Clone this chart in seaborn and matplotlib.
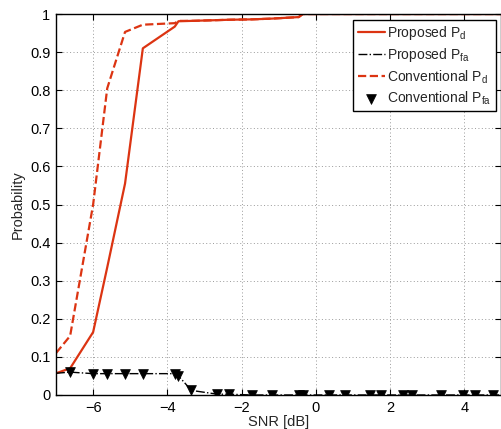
import numpy as np
import pandas as pd
import matplotlib
matplotlib.use("Agg")
import matplotlib.pyplot as plt
import seaborn as sns

# SNR points (dB)
snr = [-7.0, -6.62, -6.0, -5.62, -5.14, -4.66, -3.8, -3.7, -3.35, -2.65, -2.33,
       -1.72, -1.18, -0.46, -0.35, 0.35, 0.78, 1.45, 1.76, 2.34, 2.59, 3.37,
       3.97, 4.29, 4.77, 5.3]

proposed_pd = [0.057, 0.07, 0.165, 0.335, 0.555, 0.91, 0.967, 0.981, 0.982, 0.984, 0.985,
               0.986, 0.988, 0.992, 1.0, 1.0, 1.0, 1.0, 1.0, 1.0, 1.0, 1.0,
               1.0, 1.0, 1.0, 1.0]
proposed_pfa = [0.057, 0.06, 0.056, 0.056, 0.056, 0.056, 0.056, 0.05, 0.012, 0.002, 0.002,
                0.0, 0.0, 0.0, 0.0, 0.0, 0.0, 0.0, 0.0, 0.0, 0.0, 0.0,
                0.0, 0.0, 0.0, 0.0]
conventional_pd = [0.11, 0.155, 0.5, 0.805, 0.953, 0.972, 0.976, 0.982, 0.982, 0.984, 0.985,
                   0.986, 0.988, 0.992, 1.0, 1.0, 1.0, 1.0, 1.0, 1.0, 1.0, 1.0,
                   1.0, 1.0, 1.0, 1.0]
# conventional Pfa coincides with proposed Pfa (markers only, first point off-plot)
conventional_pfa = proposed_pfa

x_ticks = [-6, -4, -2, 0, 2, 4]
y_ticks = [0, 0.1, 0.2, 0.3, 0.4, 0.5, 0.6, 0.7, 0.8, 0.9, 1]
y_tick_labels = ["0", "0.1", "0.2", "0.3", "0.4", "0.5", "0.6", "0.7", "0.8", "0.9", "1"]

df = pd.DataFrame({"snr": snr, "ppd": proposed_pd, "ppfa": proposed_pfa,
                   "cpd": conventional_pd, "cpfa": conventional_pfa})

sns.set_theme(style="ticks")
plt.rcParams["font.family"] = ["Liberation Sans", "DejaVu Sans"]
plt.rcParams["mathtext.default"] = "regular"

RED = "#dc3412"

fig = plt.figure(figsize=(5.02, 4.29), dpi=100)
ax = fig.add_axes([0.1116, 0.0793, 0.887, 0.888])

sns.lineplot(data=df, x="snr", y="ppd", ax=ax, color=RED, lw=1.6, sort=False,
             label=r"Proposed P$_{d}$")
sns.lineplot(data=df, x="snr", y="ppfa", ax=ax, color="black", lw=1.0, ls="-.",
             sort=False, label=r"Proposed P$_{fa}$")
sns.lineplot(data=df, x="snr", y="cpd", ax=ax, color=RED, lw=1.6, ls="--",
             sort=False, label=r"Conventional P$_{d}$")
sns.scatterplot(data=df.iloc[1:], x="snr", y="cpfa", ax=ax, color="black", marker="v",
                s=50, edgecolor="black", linewidth=0.5, zorder=5,
                label=r"Conventional P$_{fa}$")

ax.set_xlim(-7, 5)
ax.set_ylim(0, 1)
ax.set_xticks(x_ticks)
ax.set_xticklabels(["\u22126", "\u22124", "\u22122", "0", "2", "4"])
ax.set_yticks(y_ticks)
ax.set_yticklabels(y_tick_labels)
ax.grid(True, ls=(0, (1, 2.5)), color="#9a9a9a", lw=0.7)
ax.tick_params(direction="in", top=True, right=True, labelsize=10.5, length=4,
               width=0.8, colors="black", pad=4)
for sp in ax.spines.values():
    sp.set_visible(True)
    sp.set_color("black")
    sp.set_linewidth(1.0)

ax.set_xlabel("SNR [dB]", fontsize=10.5, labelpad=0)
ax.set_ylabel("Probability", fontsize=10.5, labelpad=4)

leg = ax.legend(loc="upper right", bbox_to_anchor=(0.988, 0.985), borderaxespad=0,
                fontsize=10, fancybox=False, edgecolor="black", framealpha=1,
                handlelength=2.0, handletextpad=0.15, labelspacing=0.3,
                borderpad=0.3)
leg.get_frame().set_linewidth(1.0)

fig.savefig("out.png", dpi=100)
